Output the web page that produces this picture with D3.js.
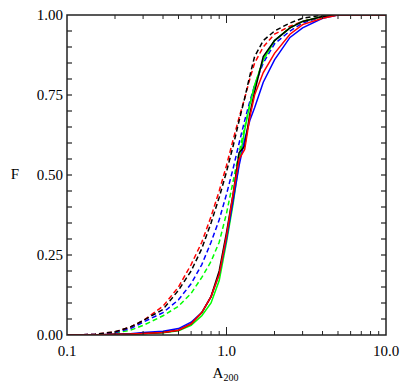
<!DOCTYPE html>
<html>
<head>
<meta charset="utf-8">
<script src="https://cdn.jsdelivr.net/npm/d3@7"></script>
<style>
  body { margin: 0; background: #fff; }
  svg text { font-family: "Liberation Serif", "Times New Roman", serif; fill: #000; }
</style>
</head>
<body>
<div id="chart"></div>
<script>
// A200 grid the cumulative fractions are read at
var a200 = [0.1, 0.15, 0.2, 0.25, 0.3, 0.4, 0.5, 0.6, 0.7, 0.8, 0.9, 1.0, 1.1, 1.2, 1.3, 1.4, 1.5, 1.7, 2.0, 2.5, 3, 4, 5, 7, 10];

// solid curves
var blackSolid = [0, 0, 0.002, 0.003, 0.005, 0.008, 0.015, 0.035, 0.07, 0.12, 0.2, 0.32, 0.44, 0.57, 0.59, 0.69, 0.76, 0.87, 0.92, 0.96, 0.98, 0.995, 1, 1, 1];
var redSolid   = [0, 0, 0.002, 0.003, 0.005, 0.008, 0.015, 0.035, 0.07, 0.12, 0.19, 0.31, 0.44, 0.55, 0.58, 0.68, 0.75, 0.82, 0.88, 0.94, 0.97, 0.99, 1, 1, 1];
var greenSolid = [0, 0, 0.001, 0.002, 0.004, 0.007, 0.013, 0.03, 0.06, 0.10, 0.17, 0.29, 0.41, 0.54, 0.64, 0.72, 0.78, 0.86, 0.92, 0.96, 0.98, 0.995, 1, 1, 1];
var blueSolid  = [0, 0, 0.002, 0.004, 0.008, 0.012, 0.02, 0.04, 0.07, 0.12, 0.19, 0.30, 0.42, 0.53, 0.61, 0.67, 0.71, 0.79, 0.86, 0.93, 0.96, 0.99, 1, 1, 1];

// dashed curves
var blackDash = [0, 0.002, 0.01, 0.025, 0.045, 0.08, 0.14, 0.20, 0.27, 0.35, 0.43, 0.51, 0.59, 0.67, 0.74, 0.81, 0.87, 0.92, 0.95, 0.975, 0.99, 1, 1, 1, 1];
var redDash   = [0, 0.002, 0.01, 0.025, 0.045, 0.09, 0.15, 0.22, 0.29, 0.37, 0.45, 0.53, 0.61, 0.68, 0.74, 0.80, 0.85, 0.90, 0.94, 0.965, 0.98, 0.995, 1, 1, 1];
var greenDash = [0, 0.001, 0.006, 0.015, 0.03, 0.06, 0.09, 0.13, 0.18, 0.23, 0.29, 0.38, 0.48, 0.57, 0.65, 0.72, 0.78, 0.86, 0.92, 0.96, 0.98, 0.995, 1, 1, 1];
var blueDash  = [0, 0.002, 0.008, 0.02, 0.04, 0.07, 0.11, 0.16, 0.22, 0.29, 0.36, 0.44, 0.52, 0.60, 0.67, 0.73, 0.78, 0.85, 0.91, 0.95, 0.975, 0.995, 1, 1, 1];

var xTickLabels = ["0.1", "1.0", "10.0"];
var yTickLabels = ["0.00", "0.25", "0.50", "0.75", "1.00"];

var series = [
  {vals: greenDash, color: "#00ff00", dash: "5,3"},
  {vals: blueDash,  color: "#0000ff", dash: "5,3"},
  {vals: redDash,   color: "#ff0000", dash: "5,3"},
  {vals: blackDash, color: "#000000", dash: "5,3"},
  {vals: greenSolid, color: "#00ff00", dash: null},
  {vals: blueSolid,  color: "#0000ff", dash: null},
  {vals: blackSolid, color: "#000000", dash: null},
  {vals: redSolid,   color: "#ff0000", dash: null}
];

var W = 415, H = 390;
var pLeft = 67, pRight = 386, pTop = 15, pBottom = 335;

var svg = d3.select("#chart").append("svg").attr("width", W).attr("height", H);

var x = d3.scaleLog().domain([0.1, 10]).range([pLeft, pRight]);
var y = d3.scaleLinear().domain([0, 1]).range([pBottom, pTop]);

svg.append("clipPath").attr("id", "clip").append("rect")
  .attr("x", pLeft).attr("y", pTop).attr("width", pRight - pLeft).attr("height", pBottom - pTop);

var line = d3.line()
  .x(function(d, i){ return x(a200[i]); })
  .y(function(d){ return y(d); });

var g = svg.append("g").attr("clip-path", "url(#clip)");
series.forEach(function(s){
  g.append("path")
    .attr("d", line(s.vals))
    .attr("fill", "none")
    .attr("stroke", s.color)
    .attr("stroke-width", 1.5)
    .attr("stroke-dasharray", s.dash);
});

// minor/major x ticks, inward on bottom and top
var xMinor = [];
[0.1, 1].forEach(function(dec){
  for (var k = 2; k <= 9; k++) xMinor.push(dec * k);
});
var axisCol = "#222";
function xTicks(vals, len){
  vals.forEach(function(v){
    svg.append("line").attr("x1", x(v)).attr("x2", x(v)).attr("y1", pBottom).attr("y2", pBottom - len)
      .attr("stroke", axisCol).attr("stroke-width", 1);
    svg.append("line").attr("x1", x(v)).attr("x2", x(v)).attr("y1", pTop).attr("y2", pTop + len)
      .attr("stroke", axisCol).attr("stroke-width", 1);
  });
}
xTicks(xMinor, 4);
xTicks([1], 8);

// y ticks every 0.05
d3.range(1, 20).forEach(function(i){
  var v = i * 0.05;
  svg.append("line").attr("x1", pLeft).attr("x2", pLeft + 5).attr("y1", y(v)).attr("y2", y(v))
    .attr("stroke", axisCol).attr("stroke-width", 1.2);
  svg.append("line").attr("x1", pRight).attr("x2", pRight - 5).attr("y1", y(v)).attr("y2", y(v))
    .attr("stroke", axisCol).attr("stroke-width", 1.2);
});

svg.append("rect").attr("x", pLeft).attr("y", pTop).attr("width", pRight - pLeft).attr("height", pBottom - pTop)
  .attr("fill", "none").attr("stroke", axisCol).attr("stroke-width", 1.5);

// tick labels
xTickLabels.forEach(function(t){
  svg.append("text").attr("x", x(+t)).attr("y", pBottom + 21)
    .attr("text-anchor", "middle").attr("font-size", 15).text(t);
});
yTickLabels.forEach(function(t){
  svg.append("text").attr("x", pLeft - 4).attr("y", y(+t) + 5)
    .attr("text-anchor", "end").attr("font-size", 15).text(t);
});

// axis titles
svg.append("text").attr("x", 15).attr("y", 179).attr("text-anchor", "middle")
  .attr("font-size", 15).text("F");
var xt = svg.append("text").attr("x", (pLeft + pRight) / 2 - 1).attr("y", 378)
  .attr("text-anchor", "middle").attr("font-size", 15);
xt.append("tspan").text("A");
xt.append("tspan").attr("font-size", 10).attr("dy", 3).text("200");
</script>
</body>
</html>
